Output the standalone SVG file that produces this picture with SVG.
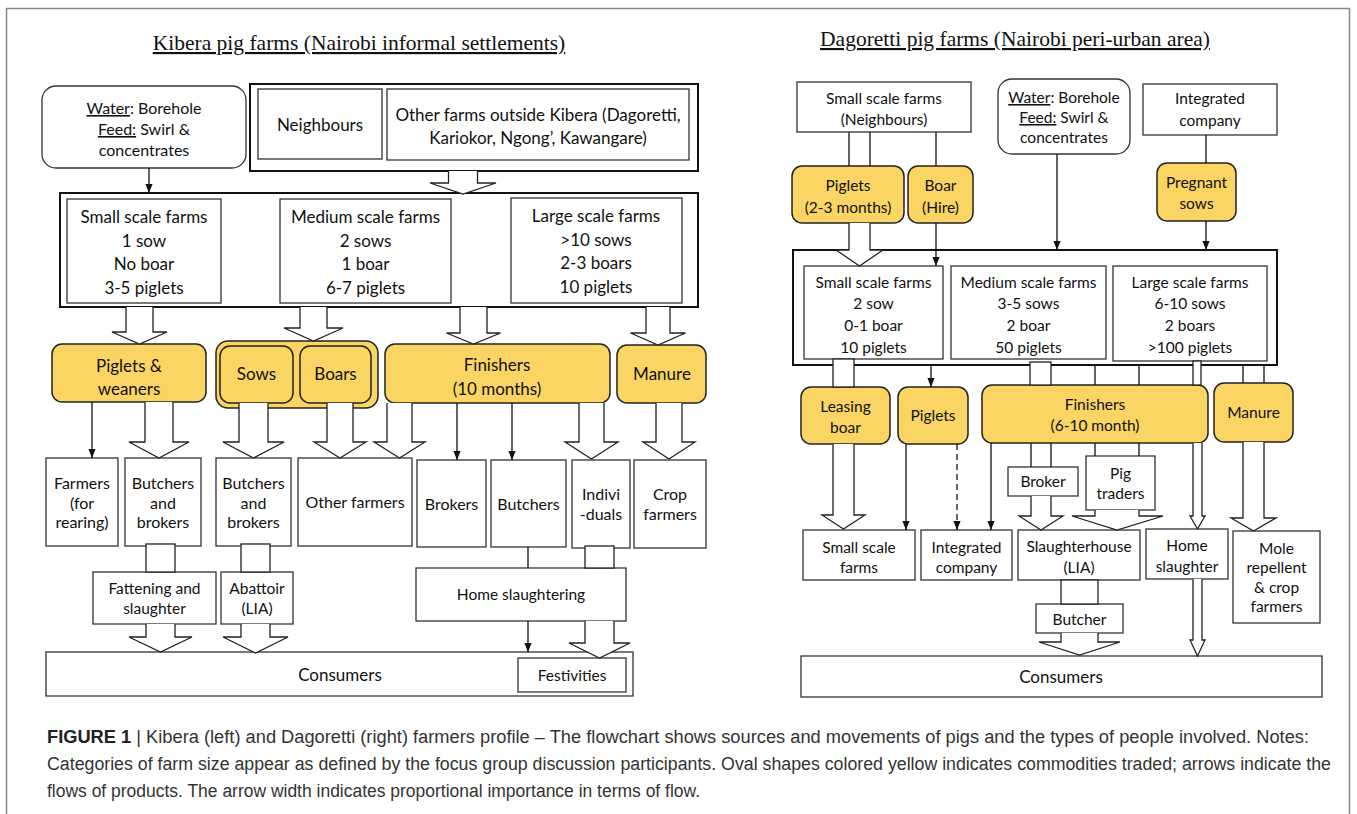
<svg xmlns="http://www.w3.org/2000/svg" width="1357" height="814" viewBox="0 0 1357 814">
<defs>
<style>
.bx{fill:#fff;stroke:#333;stroke-width:1.3}
.bk{fill:#fff;stroke:#111;stroke-width:2}
.yl{fill:#FAD564;stroke:#222;stroke-width:1.5}
.t{font-family:Lato,"Open Sans",sans-serif;font-size:17px;fill:#111;text-anchor:middle}
.s15{font-size:15.5px}
.s16{font-size:16px}
.ttl{font-family:"Liberation Serif",serif;font-size:21.5px;fill:#111;text-anchor:middle;text-decoration:underline}
.ha{fill:#fff;stroke:#222;stroke-width:1.3}
.ln{stroke:#111;stroke-width:1.3;fill:none}
.cap{font-family:"Liberation Sans",Arial,sans-serif;font-size:18px;fill:#333}
</style>
<marker id="ah" viewBox="0 0 10 10" refX="10" refY="5" markerWidth="9" markerHeight="9" orient="auto" markerUnits="userSpaceOnUse"><path d="M0,1 L10,5 L0,9 z" fill="#111"/></marker>
</defs>
<rect width="1357" height="814" fill="#fff"/>
<rect x="6.5" y="8.5" width="1343" height="820" fill="none" stroke="#888" stroke-width="1.5"/>

<text class="ttl" x="359" y="50">Kibera pig farms (Nairobi informal settlements)</text>
<text class="ttl" x="1015" y="46">Dagoretti pig farms (Nairobi peri-urban area)</text>

<!-- LEFT NODES -->
<g id="k-water"><rect class="bx" x="42" y="86" width="204" height="82" rx="14"/>
<text class="t s16" x="144" y="114"><tspan text-decoration="underline">Water</tspan>: Borehole</text>
<text class="t s16" x="144" y="135"><tspan text-decoration="underline">Feed:</tspan> Swirl &amp;</text>
<text class="t s16" x="144" y="156">concentrates</text></g>
<g id="k-sources"><rect class="bk" x="250" y="84" width="448" height="87"/>
<rect class="bx" x="258" y="89" width="124" height="70"/><text class="t" x="320" y="131">Neighbours</text>
<rect class="bx" x="387" y="89" width="302" height="71"/>
<text class="t" x="538" y="121">Other farms outside Kibera (Dagoretti,</text>
<text class="t" x="538" y="144">Kariokor, Ngong’, Kawangare)</text></g>
<g id="k-farms"><rect class="bk" x="60" y="193" width="638" height="114"/>
<rect class="bx" x="67" y="199" width="154" height="104"/>
<text class="t" x="144" y="223">Small scale farms</text><text class="t" x="144" y="247">1 sow</text><text class="t" x="144" y="270">No boar</text><text class="t" x="144" y="294">3-5 piglets</text>
<rect class="bx" x="280" y="199" width="171" height="104"/>
<text class="t" x="365.5" y="223">Medium scale farms</text><text class="t" x="365.5" y="247">2 sows</text><text class="t" x="365.5" y="270">1 boar</text><text class="t" x="365.5" y="294">6-7 piglets</text>
<rect class="bx" x="511" y="198" width="171" height="105"/>
<text class="t" x="596" y="222">Large scale farms</text><text class="t" x="596" y="246">&gt;10 sows</text><text class="t" x="596" y="269">2-3 boars</text><text class="t" x="596" y="293">10 piglets</text></g>
<g id="k-piglets"><rect class="yl" x="52" y="344" width="154" height="58" rx="10"/>
<text class="t" x="129" y="372">Piglets &amp;</text><text class="t" x="129" y="395">weaners</text></g>
<g id="k-sowsboars"><rect class="yl" x="216" y="341" width="162" height="67" rx="12"/>
<rect class="yl" x="220" y="346" width="73" height="57" rx="10"/><text class="t" x="256.5" y="380">Sows</text>
<rect class="yl" x="300" y="346" width="71" height="57" rx="10"/><text class="t" x="335.5" y="380">Boars</text></g>
<g id="k-finishers"><rect class="yl" x="385" y="344" width="225" height="59" rx="10"/>
<text class="t" x="497" y="371">Finishers</text><text class="t" x="497" y="395">(10 months)</text></g>
<g id="k-manure"><rect class="yl" x="617" y="345" width="89" height="58" rx="10"/><text class="t" x="662" y="380">Manure</text></g>
<g id="k-farmers"><rect class="bx" x="46" y="458" width="72" height="88"/>
<text class="t s16" x="82" y="489">Farmers</text><text class="t s16" x="82" y="509">(for</text><text class="t s16" x="82" y="528">rearing)</text></g>
<g id="k-bb1"><rect class="bx" x="125" y="458" width="76" height="88"/>
<text class="t s16" x="163" y="489">Butchers</text><text class="t s16" x="163" y="509">and</text><text class="t s16" x="163" y="528">brokers</text></g>
<g id="k-bb2"><rect class="bx" x="216" y="458" width="75" height="88"/>
<text class="t s16" x="253.5" y="489">Butchers</text><text class="t s16" x="253.5" y="509">and</text><text class="t s16" x="253.5" y="528">brokers</text></g>
<g id="k-otherfarmers"><rect class="bx" x="298" y="458" width="114" height="88"/><text class="t s16" x="355" y="508">Other farmers</text></g>
<g id="k-brokers"><rect class="bx" x="417" y="460" width="69" height="87"/><text class="t s16" x="451.5" y="510">Brokers</text></g>
<g id="k-butchers"><rect class="bx" x="491" y="460" width="75" height="87"/><text class="t s16" x="528.5" y="510">Butchers</text></g>
<g id="k-indiv"><rect class="bx" x="572" y="460" width="58" height="88"/>
<text class="t s16" x="601" y="500">Indivi</text><text class="t s16" x="601" y="520">-duals</text></g>
<g id="k-crop"><rect class="bx" x="634" y="460" width="72" height="88"/>
<text class="t s16" x="670" y="500">Crop</text><text class="t s16" x="670" y="520">farmers</text></g>
<g id="k-fattening"><rect class="bx" x="93" y="572" width="123" height="52"/>
<text class="t s15" x="154.5" y="594">Fattening and</text><text class="t s15" x="154.5" y="614">slaughter</text></g>
<g id="k-abattoir"><rect class="bx" x="221" y="572" width="72" height="52"/>
<text class="t s15" x="257" y="594">Abattoir</text><text class="t s15" x="257" y="614">(LIA)</text></g>
<g id="k-home"><rect class="bx" x="416" y="568" width="210" height="53"/><text class="t s15" x="521" y="600">Home slaughtering</text></g>
<g id="k-consumers"><rect class="bx" x="46" y="652" width="587" height="44"/><text class="t" x="340" y="681">Consumers</text></g>
<g id="k-festivities"><rect class="bx" x="518" y="658" width="108" height="34"/><text class="t s15" x="572" y="681">Festivities</text></g>

<!-- RIGHT NODES -->
<g id="d-neigh"><rect class="bx" x="797" y="82" width="174" height="50"/>
<text class="t s15" x="884" y="104">Small scale farms</text><text class="t s15" x="884" y="125">(Neighbours)</text></g>
<g id="d-water"><rect class="bx" x="998" y="79" width="132" height="75" rx="14"/>
<text class="t s15" x="1064" y="103"><tspan text-decoration="underline">Water</tspan>: Borehole</text>
<text class="t s15" x="1064" y="123"><tspan text-decoration="underline">Feed:</tspan> Swirl &amp;</text>
<text class="t s15" x="1064" y="143">concentrates</text></g>
<g id="d-integrated"><rect class="bx" x="1143" y="84" width="134" height="51"/>
<text class="t s15" x="1210" y="104">Integrated</text><text class="t s15" x="1210" y="126">company</text></g>
<g id="d-piglets1"><rect class="yl" x="792" y="166" width="112" height="57" rx="10"/>
<text class="t s15" x="848" y="191">Piglets</text><text class="t s15" x="848" y="213">(2-3 months)</text></g>
<g id="d-boar"><rect class="yl" x="908" y="166" width="65" height="57" rx="10"/>
<text class="t s15" x="940.5" y="191">Boar</text><text class="t s15" x="940.5" y="213">(Hire)</text></g>
<g id="d-pregnant"><rect class="yl" x="1157" y="163" width="79" height="58" rx="10"/>
<text class="t s15" x="1196.5" y="188">Pregnant</text><text class="t s15" x="1196.5" y="209">sows</text></g>
<g id="d-farms"><rect class="bk" x="793" y="250" width="484" height="115"/>
<rect class="bx" x="804" y="266" width="139" height="93"/>
<text class="t s15" x="873.5" y="288">Small scale farms</text><text class="t s15" x="873.5" y="309">2 sow</text><text class="t s15" x="873.5" y="331">0-1 boar</text><text class="t s15" x="873.5" y="353">10 piglets</text>
<rect class="bx" x="951" y="266" width="155" height="93"/>
<text class="t s15" x="1028.5" y="288">Medium scale farms</text><text class="t s15" x="1028.5" y="309">3-5 sows</text><text class="t s15" x="1028.5" y="331">2 boar</text><text class="t s15" x="1028.5" y="353">50 piglets</text>
<rect class="bx" x="1113" y="266" width="154" height="95"/>
<text class="t s15" x="1190" y="288">Large scale farms</text><text class="t s15" x="1190" y="309">6-10 sows</text><text class="t s15" x="1190" y="331">2 boars</text><text class="t s15" x="1190" y="353">&gt;100 piglets</text></g>
<g id="d-leasing"><rect class="yl" x="801" y="387" width="89" height="57" rx="10"/>
<text class="t s15" x="845.5" y="412">Leasing</text><text class="t s15" x="845.5" y="433">boar</text></g>
<g id="d-piglets2"><rect class="yl" x="898" y="387" width="70" height="57" rx="10"/><text class="t s15" x="933" y="421">Piglets</text></g>
<g id="d-finishers"><rect class="yl" x="982" y="385" width="226" height="58" rx="10"/>
<text class="t s15" x="1095" y="410">Finishers</text><text class="t s15" x="1095" y="431">(6-10 month)</text></g>
<g id="d-manure"><rect class="yl" x="1214" y="383" width="79" height="59" rx="10"/><text class="t s15" x="1253.5" y="418">Manure</text></g>
<g id="d-broker"><rect class="bx" x="1008" y="467" width="70" height="29"/><text class="t s15" x="1043" y="487">Broker</text></g>
<g id="d-pigtraders"><rect class="bx" x="1086" y="456" width="69" height="54"/>
<text class="t s15" x="1120.5" y="479">Pig</text><text class="t s15" x="1120.5" y="499">traders</text></g>
<g id="d-smallfarms"><rect class="bx" x="803" y="530" width="112" height="50"/>
<text class="t s15" x="859" y="553">Small scale</text><text class="t s15" x="859" y="573">farms</text></g>
<g id="d-intco"><rect class="bx" x="921" y="530" width="91" height="50"/>
<text class="t s15" x="966.5" y="553">Integrated</text><text class="t s15" x="966.5" y="573">company</text></g>
<g id="d-slaughterhouse"><rect class="bx" x="1018" y="530" width="122" height="50"/>
<text class="t s15" x="1079" y="552">Slaughterhouse</text><text class="t s15" x="1079" y="573">(LIA)</text></g>
<g id="d-homeslaughter"><rect class="bx" x="1146" y="529" width="82" height="50"/>
<text class="t s15" x="1187" y="551">Home</text><text class="t s15" x="1187" y="572">slaughter</text></g>
<g id="d-mole"><rect class="bx" x="1233" y="531" width="87" height="92"/>
<text class="t s15" x="1276.5" y="554">Mole</text><text class="t s15" x="1276.5" y="573">repellent</text><text class="t s15" x="1276.5" y="593">&amp; crop</text><text class="t s15" x="1276.5" y="612">farmers</text></g>
<g id="d-butcher"><rect class="bx" x="1036" y="604" width="87" height="29"/><text class="t s15" x="1079.5" y="625">Butcher</text></g>
<g id="d-consumers"><rect class="bx" x="801" y="656" width="521" height="41"/><text class="t" x="1061" y="683">Consumers</text></g>

<!-- CONNECTORS -->
<g id="connectors">
<line class="ln" x1="149" y1="168" x2="149" y2="193" marker-end="url(#ah)"/>
<path class="ha" d="M448.5,171 V183 H430 L463,194 L496,183 H477.5 V171"/>
<path class="ha" d="M126,307 V332 H112 L139.5,344 L167,332 H153 V307"/>
<path class="ha" d="M300,307 V328 H284 L313.5,341 L343,328 H327 V307"/>
<path class="ha" d="M460,307 V333 H446.5 L473.5,344 L500.5,333 H487 V307"/>
<path class="ha" d="M646,307 V333 H630.5 L658,345 L685.5,333 H670 V307"/>
<line class="ln" x1="92" y1="402" x2="92" y2="458" marker-end="url(#ah)"/>
<path class="ha" d="M145,402 V442 H129 L159,458 L189,442 H173 V402"/>
<path class="ha" d="M239,403 V442 H223 L253.5,458 L284,442 H268 V403"/>
<path class="ha" d="M327,403 V442 H314 L340,458 L366,442 H353 V403"/>
<path class="ha" d="M387,403 V442 H374 L399.5,458 L425,442 H412 V403"/>
<line class="ln" x1="457" y1="403" x2="457" y2="460" marker-end="url(#ah)"/>
<line class="ln" x1="512" y1="403" x2="512" y2="460" marker-end="url(#ah)"/>
<path class="ha" d="M579,403 V442 H565 L591.5,459 L618,442 H604 V403"/>
<path class="ha" d="M656,403 V442 H643 L669,459 L695,442 H682 V403"/>
<rect class="ha" x="146" y="544" width="29" height="28"/>
<rect class="ha" x="241" y="544" width="29" height="28"/>
<rect class="ha" x="585" y="546" width="29" height="22"/>
<line class="ln" x1="528" y1="547" x2="528" y2="568"/>
<path class="ha" d="M146,624 V637 H129 L160.5,652 L192,637 H175 V624"/>
<path class="ha" d="M241,624 V637 H223 L255.5,653 L288,637 H270 V624"/>
<line class="ln" x1="528" y1="621" x2="528" y2="652" marker-end="url(#ah)"/>
<path class="ha" d="M585,621 V643 H569 L599.5,658 L630,643 H614 V621"/>

<line class="ln" x1="849" y1="132" x2="849" y2="166"/>
<line class="ln" x1="870" y1="132" x2="870" y2="166"/>
<path class="ha" d="M849,223 V250 H836 L859.5,266 L883,250 H870 V223"/>
<line class="ln" x1="936" y1="132" x2="936" y2="166"/>
<line class="ln" x1="936" y1="223" x2="936" y2="266" marker-end="url(#ah)"/>
<line class="ln" x1="1057" y1="154" x2="1057" y2="250" marker-end="url(#ah)"/>
<line class="ln" x1="1206" y1="135" x2="1206" y2="163"/>
<line class="ln" x1="1206" y1="221" x2="1206" y2="250" marker-end="url(#ah)"/>
<rect class="ha" x="833" y="359" width="21" height="28"/>
<line class="ln" x1="931" y1="365" x2="931" y2="387" marker-end="url(#ah)"/>
<rect class="ha" x="1030" y="362" width="21" height="23"/>
<line class="ln" x1="1095" y1="365" x2="1095" y2="385"/>
<line class="ln" x1="1139" y1="365" x2="1139" y2="385"/>
<rect class="ha" x="1193" y="361" width="8" height="24"/>
<line class="ln" x1="1243" y1="365" x2="1243" y2="383"/>
<line class="ln" x1="1264" y1="365" x2="1264" y2="383"/>
<path class="ha" d="M833,444 V515 H822 L843.5,529 L865,515 H854 V444"/>
<line class="ln" x1="906" y1="444" x2="906" y2="530" marker-end="url(#ah)"/>
<line class="ln" x1="957" y1="444" x2="957" y2="530" stroke-dasharray="6,4" marker-end="url(#ah)"/>
<line class="ln" x1="991" y1="443" x2="991" y2="530" marker-end="url(#ah)"/>
<line class="ln" x1="1031" y1="443" x2="1031" y2="467"/>
<line class="ln" x1="1051" y1="443" x2="1051" y2="467"/>
<path class="ha" d="M1031,496 V516 H1019 L1041,530 L1063,516 H1051 V496"/>
<line class="ln" x1="1095" y1="443" x2="1095" y2="456"/>
<line class="ln" x1="1139" y1="443" x2="1139" y2="456"/>
<path class="ha" d="M1095,510 V516 H1072 L1117,530 L1163,516 H1139 V510"/>
<path class="ha" d="M1193,443 V516 H1190 L1197.5,529 L1205,516 H1202 V443"/>
<path class="ha" d="M1243,442 V518 H1231 L1253.5,531 L1276,518 H1264 V442"/>
<rect class="ha" x="1061" y="580" width="37" height="24"/>
<path class="ha" d="M1061,633 V642 H1039 L1079.5,655 L1120,642 H1098 V633"/>
<path class="ha" d="M1193,579 V640 H1190 L1197.5,656 L1205,640 H1202 V579"/>
</g>

<g id="caption">
<text class="cap" x="47" y="743" textLength="1262" lengthAdjust="spacingAndGlyphs"><tspan font-weight="bold" fill="#222">FIGURE 1</tspan> | Kibera (left) and Dagoretti (right) farmers profile – The flowchart shows sources and movements of pigs and the types of people involved. Notes:</text>
<text class="cap" x="47" y="770" textLength="1284" lengthAdjust="spacingAndGlyphs">Categories of farm size appear as defined by the focus group discussion participants. Oval shapes colored yellow indicates commodities traded; arrows indicate the</text>
<text class="cap" x="47" y="797" textLength="653" lengthAdjust="spacingAndGlyphs">flows of products. The arrow width indicates proportional importance in terms of flow.</text>
</g>
</svg>
